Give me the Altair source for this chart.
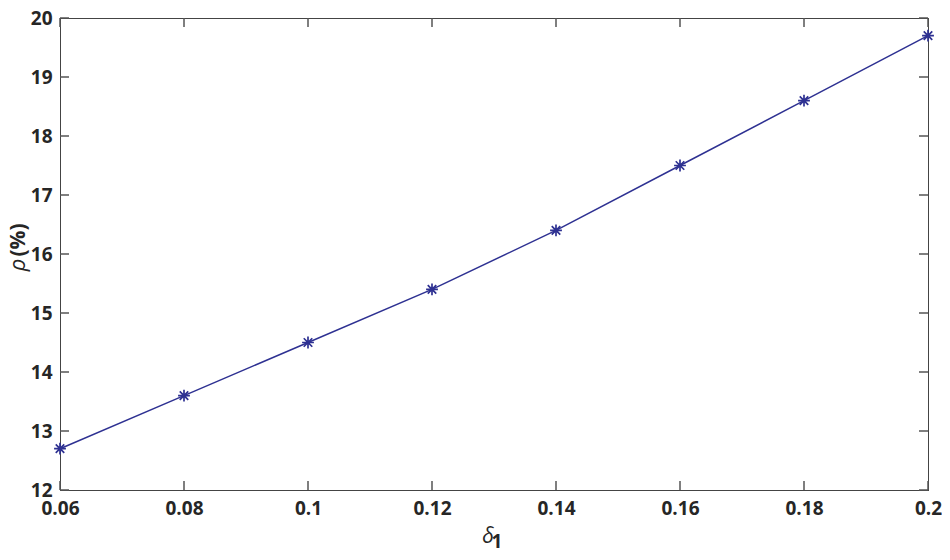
import altair as alt
import pandas as pd

delta1 = [0.06, 0.08, 0.10, 0.12, 0.14, 0.16, 0.18, 0.20]
rho = [12.7, 13.6, 14.5, 15.4, 16.4, 17.5, 18.6, 19.7]
x_ticks = [0.06, 0.08, 0.10, 0.12, 0.14, 0.16, 0.18, 0.20]
y_ticks = [12, 13, 14, 15, 16, 17, 18, 19, 20]

W, H = 868, 472
LINE = "#2E3192"
AXC = "#444444"
TKC = "#555555"
FONT = "Open Sans"
TXT = "#262626"

df = pd.DataFrame({"d": delta1, "r": rho})
xt = pd.DataFrame({"v": x_ticks})
yt = pd.DataFrame({"v": y_ticks})

xs = alt.Scale(domain=[0.06, 0.2], nice=False, zero=False)
ys = alt.Scale(domain=[12, 20], nice=False, zero=False)

xaxis = alt.Axis(values=x_ticks, format="~g", grid=False, domain=False, ticks=False,
                 labelFont=FONT, labelFontSize=19, labelFontWeight="bold", labelColor=TXT,
                 labelPadding=9, title=None, labelFlush=False)
yaxis = alt.Axis(values=y_ticks, format="~g", grid=False, domain=False, ticks=False,
                 labelFont=FONT, labelFontSize=19, labelFontWeight="bold", labelColor=TXT,
                 labelPadding=8, title=None)

asterisk = "M-1,0L1,0M0,-1L0,1M-0.72,-0.72L0.72,0.72M-0.72,0.72L0.72,-0.72"

line = alt.Chart(df).mark_line(color=LINE, strokeWidth=1.5).encode(
    x=alt.X("d:Q", scale=xs, axis=xaxis),
    y=alt.Y("r:Q", scale=ys, axis=yaxis),
)
pts = alt.Chart(df).mark_point(shape=asterisk, size=140, color=LINE, filled=False,
                               strokeWidth=1.7, opacity=1).encode(
    x=alt.X("d:Q", scale=xs), y=alt.Y("r:Q", scale=ys))

TL = 9
TW = 1.5
bt = alt.Chart(xt).mark_rule(color=TKC, strokeWidth=TW, opacity=1).encode(
    x=alt.X("v:Q", scale=xs), y=alt.value(H), y2=alt.value(H - TL))
tt = alt.Chart(xt).mark_rule(color=TKC, strokeWidth=TW, opacity=1).encode(
    x=alt.X("v:Q", scale=xs), y=alt.value(0), y2=alt.value(TL))
lt = alt.Chart(yt).mark_rule(color=TKC, strokeWidth=TW, opacity=1).encode(
    y=alt.Y("v:Q", scale=ys), x=alt.value(0), x2=alt.value(TL))
rt = alt.Chart(yt).mark_rule(color=TKC, strokeWidth=TW, opacity=1).encode(
    y=alt.Y("v:Q", scale=ys), x=alt.value(W), x2=alt.value(W - TL))

one = pd.DataFrame({"a": [0]})
fl = alt.Chart(one).mark_rule(color=AXC, strokeWidth=1).encode(
    x=alt.value(0.5), y=alt.value(0), y2=alt.value(H))
fr = alt.Chart(one).mark_rule(color=AXC, strokeWidth=1).encode(
    x=alt.value(W + 0.5), y=alt.value(0), y2=alt.value(H))
ft = alt.Chart(one).mark_rule(color=AXC, strokeWidth=1).encode(
    y=alt.value(0.5), x=alt.value(0), x2=alt.value(W + 1))
fb = alt.Chart(one).mark_rule(color=AXC, strokeWidth=1).encode(
    y=alt.value(H + 0.5), x=alt.value(0), x2=alt.value(W + 1))

xt1 = alt.Chart(one).mark_text(text="δ", font=FONT, fontSize=21, fontStyle="italic",
                               color=TXT, align="center", baseline="middle").encode(
    x=alt.value(428), y=alt.value(519))
xt2 = alt.Chart(one).mark_text(text="1", font=FONT, fontSize=19, fontWeight="bold",
                               color=TXT, align="center", baseline="middle").encode(
    x=alt.value(437), y=alt.value(524))
yt1 = alt.Chart(one).mark_text(text="ρ", font=FONT, fontSize=22, fontStyle="italic",
                               color=TXT, align="center", baseline="alphabetic", angle=270).encode(
    x=alt.value(-35), y=alt.value(247))
yt2 = alt.Chart(one).mark_text(text="(%)", font=FONT, fontSize=21, fontWeight="bold",
                               color=TXT, align="center", baseline="alphabetic", angle=270).encode(
    x=alt.value(-35), y=alt.value(222))

chart = alt.layer(fl, fr, ft, fb, bt, tt, lt, rt, line, pts, xt1, xt2, yt1, yt2).properties(
    width=W, height=H,
    autosize=alt.AutoSizeParams(type="none"),
    padding={"left": 52, "top": 10, "right": 14, "bottom": 62},
).configure_view(strokeWidth=0).configure(background="white")

chart.save("out.html", embed_options={"renderer": "svg", "actions": False})
